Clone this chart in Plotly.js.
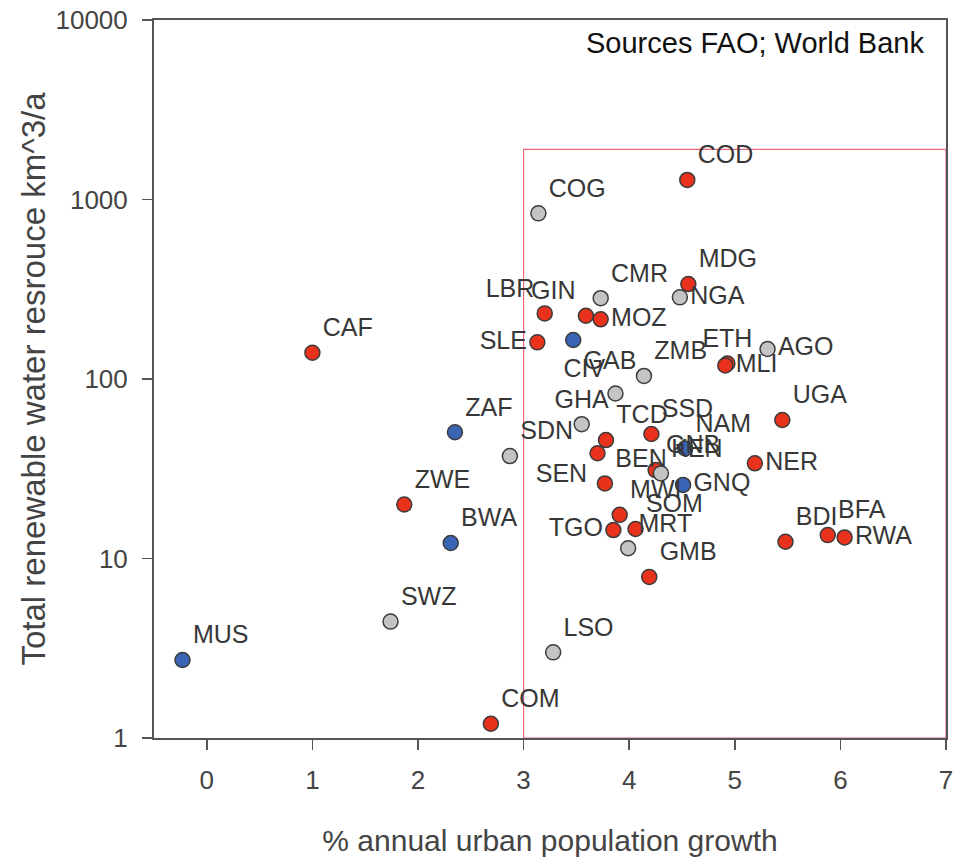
<!DOCTYPE html>
<html>
<head>
<meta charset="utf-8">
<script src="https://cdn.plot.ly/plotly-3.0.1.min.js"></script>
<style>html,body{margin:0;padding:0;background:#fff;}#chart{width:956px;height:858px;}</style>
</head>
<body>
<div id="chart"></div>
<script>
// Country codes (ISO3)
const countries = ["CAF","ZAF","ZWE","BWA","MUS","SWZ","LSO","COM","COG","COD","MDG","NGA","CMR","LBR","GIN","MOZ","SLE","GAB","ETH","MLI","AGO","ZMB","CIV","GHA","TCD","SSD","SEN","SDN","NAM","GNB","KEN","BEN","GNQ","NER","UGA","MWI","SOM","TGO","MRT","GMB","BDI","BFA","RWA"];
// % annual urban population growth
const urbanGrowth = [1.00,2.35,1.87,2.31,-0.23,1.74,3.28,2.69,3.14,4.55,4.56,4.48,3.73,3.20,3.59,3.73,3.13,3.47,4.93,4.91,5.31,4.14,3.87,3.55,3.78,4.21,3.70,2.87,4.53,4.25,4.30,3.77,4.51,5.19,5.45,3.91,4.06,3.85,3.99,4.19,5.48,5.88,6.04];
// Total renewable water resources, km^3/a
const waterResources = [140,50.5,20.0,12.2,2.72,4.45,3.0,1.2,837,1285,338,285,282,232,225,215,160,165,122,119,147,104,83,56,45.7,49.4,38.6,37.2,41,31.1,29.8,26.2,25.7,33.9,59.1,17.5,14.6,14.4,11.4,7.9,12.4,13.5,13.1];
// Colour group of each point: r = red, g = grey, b = blue
const groups = ["r","b","r","b","b","g","g","r","g","r","r","g","g","r","r","r","r","b","r","r","g","g","g","g","r","r","r","g","b","r","g","r","b","r","r","r","r","r","g","r","r","r","r"];
// Axis ticks
const xTicks = [0,1,2,3,4,5,6,7];
const yTicks = [1,10,100,1000,10000];
const yTickText = ["1","10","100","1000","10000"];
// Highlighted region bounds
const boxX = [3,7];
const boxY = [1,1900];

// Label placement (style)
const labelPos = {
  CAF:"top right",ZAF:"top right",ZWE:"top right",BWA:"top right",MUS:"top right",SWZ:"top right",LSO:"top right",COM:"top right",
  COG:"top right",COD:"top right",MDG:"top right",NGA:"middle right",CMR:"top right",LBR:"top left",GIN:"top left",MOZ:"middle right",
  SLE:"middle left",GAB:"bottom right",ETH:"top center",MLI:"middle right",AGO:"middle right",ZMB:"top right",CIV:"top left",GHA:"top center",
  TCD:"top right",SSD:"top right",SEN:"bottom left",SDN:"top right",NAM:"top right",GNB:"top right",KEN:"top right",BEN:"top right",
  GNQ:"middle right",NER:"middle right",UGA:"top right",MWI:"top right",SOM:"top right",TGO:"middle left",MRT:"top right",GMB:"top right",
  BDI:"top right",BFA:"top right",RWA:"middle right"
};
const colorMap = {r:"rgb(232,50,28)", g:"rgb(196,196,196)", b:"rgb(58,100,180)"};

const FONT = "Liberation Sans, Arial, Helvetica, sans-serif";

const trace = {
  type: "scatter",
  mode: "markers+text",
  x: urbanGrowth,
  y: waterResources,
  text: countries,
  textposition: countries.map(c => labelPos[c]),
  textfont: {family: FONT, size: 25, color: "rgb(55,55,55)"},
  marker: {
    size: 15,
    color: groups.map(g => colorMap[g]),
    line: {color: "rgb(60,60,60)", width: 1.5}
  },
  hoverinfo: "text+x+y",
  cliponaxis: false,
  showlegend: false
};

const layout = {
  width: 956, height: 858,
  margin: {l:154, r:10, t:20, b:120},
  paper_bgcolor: "#fff", plot_bgcolor: "#fff",
  font: {family: FONT, color: "#444"},
  xaxis: {
    range: [-0.5, 7],
    tickvals: xTicks,
    ticks: "outside", ticklen: 10, tickwidth: 1.5, tickcolor: "#555",
    ticklabelstandoff: 8,
    showline: true, linecolor: "#555", linewidth: 2, mirror: true,
    showgrid: false, zeroline: false,
    tickfont: {family: FONT, size: 26, color: "#444"},
    title: {text: "% annual urban population growth", font: {family: FONT, size: 30, color: "#444"}, standoff: 36}
  },
  yaxis: {
    type: "log",
    range: [0, 4],
    tickvals: yTicks, ticktext: yTickText,
    ticks: "outside", ticklen: 10, tickwidth: 1.5, tickcolor: "#555",
    ticklabelstandoff: 9,
    showline: true, linecolor: "#555", linewidth: 2, mirror: true,
    showgrid: false, zeroline: false,
    tickfont: {family: FONT, size: 26, color: "#444"},
    title: {text: "Total renewable water resrouce km^3/a", font: {family: FONT, size: 33, color: "#444"}, standoff: 0}
  },
  shapes: [
    {type: "rect", xref: "x", yref: "y", x0: boxX[0], x1: boxX[1], y0: boxY[0], y1: boxY[1],
     line: {color: "rgb(238,105,125)", width: 1.2}, layer: "below"},
    {type: "line", xref: "paper", yref: "paper", x0: -0.014, x1: 0, y0: 0, y1: 0,
     line: {color: "#555", width: 2}}
  ],
  annotations: [
    {text: "Sources FAO; World Bank", xref: "paper", yref: "paper", x: 0.975, y: 0.993,
     xanchor: "right", yanchor: "top", showarrow: false,
     font: {family: FONT, size: 29, color: "#111"}}
  ]
};

Plotly.newPlot("chart", [trace], layout, {displayModeBar: false, staticPlot: true});
</script>
</body>
</html>
